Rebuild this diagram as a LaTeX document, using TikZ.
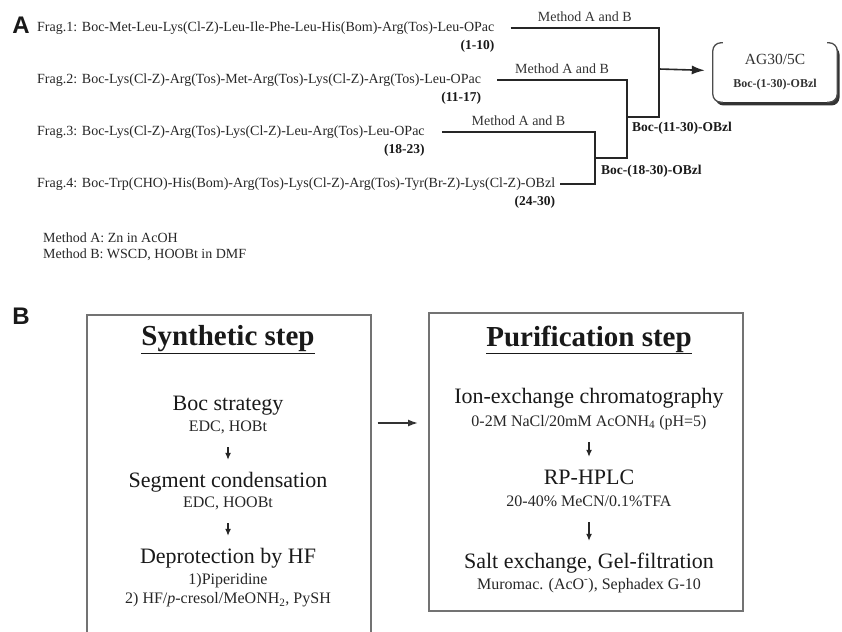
\documentclass[tikz,border=0pt]{standalone}
\usepackage{fontspec}
\setmainfont{Liberation Serif}
\newfontfamily\panelfont{Liberation Sans}
\usetikzlibrary{arrows.meta, positioning, shadows}
\tikzset{
  panel/.style={inner sep=0pt,text=black!90,font=\panelfont\fontsize{24bp}{24bp}\selectfont\bfseries},
  frag/.style={anchor=west,inner sep=0pt,text=black!85,font=\fontsize{14bp}{16bp}\selectfont},
  seglabel/.style={inner sep=0pt,text=black!90,font=\fontsize{13.5bp}{16bp}\selectfont\bfseries},
  method/.style={midway,above=6bp,inner sep=0pt,text=black!80,font=\fontsize{14bp}{16bp}\selectfont},
  relation/.style={line width=1.3bp,black!85},
  product/.style={relation,line width=1.6bp,-{Latex[length=13bp,width=9bp]},shorten >=8bp},
  agbox/.style={rectangle,rounded corners=8bp,fill=white,minimum width=124bp,minimum height=59bp,
    align=center,inner sep=0pt,text=black!80,font=\fontsize{15.5bp}{23bp}\selectfont,
    drop shadow={shadow xshift=2.5bp,shadow yshift=-3.5bp,fill=black!80,opacity=1}},
  bracket/.style={line width=1.3bp,black!70,rounded corners=8bp},
  stepbox/.style={draw=black!55,line width=1.5bp,anchor=north west,inner sep=0pt},
  boxtitle/.style={inner sep=0pt,text=black!90,font=\fontsize{29bp}{32bp}\selectfont\bfseries},
  stepname/.style={inner sep=0pt,text height=15bp,text depth=5bp,text=black!90,font=\fontsize{22bp}{24bp}\selectfont},
  reagentlines/.style={inner sep=0pt,align=center,text=black!85,font=\fontsize{16bp}{19bp}\selectfont},
  reagent/.style={reagentlines,text height=12bp,text depth=4bp},
  steparrow/.style={line width=1.2bp,black!85,-{Latex[length=7bp,width=6bp]},shorten <=12bp,shorten >=12bp},
  flow/.style={line width=1.5bp,black!80,-{Latex[length=10bp,width=7bp]},shorten <=6bp,shorten >=10bp},
}
\begin{document}
\begin{tikzpicture}[x=1bp,y=-1bp]
  \useasboundingbox (0,0) rectangle (842,632);
  \clip (0,0) rectangle (842,632);

  % panel A: fragment condensation
  \node[panel] (pa) at (21,25) {A};
  \node[frag] (f1) at (37,28) {Frag.1: Boc-Met-Leu-Lys(Cl-Z)-Leu-Ile-Phe-Leu-His(Bom)-Arg(Tos)-Leu-OPac};
  \node[frag] (f2) at (37,80) {Frag.2: Boc-Lys(Cl-Z)-Arg(Tos)-Met-Arg(Tos)-Lys(Cl-Z)-Arg(Tos)-Leu-OPac};
  \node[frag] (f3) at (37,132) {Frag.3: Boc-Lys(Cl-Z)-Arg(Tos)-Lys(Cl-Z)-Leu-Arg(Tos)-Leu-OPac};
  \node[frag] (f4) at (37,184) {Frag.4: Boc-Trp(CHO)-His(Bom)-Arg(Tos)-Lys(Cl-Z)-Arg(Tos)-Tyr(Br-Z)-Lys(Cl-Z)-OBzl};
  \node[seglabel,below left=5bp and 0bp of f1.south east] (r1) {(1-10)};
  \node[seglabel,below left=5bp and 0bp of f2.south east] (r2) {(11-17)};
  \node[seglabel,below left=5bp and 0bp of f3.south east] (r3) {(18-23)};
  \node[seglabel,below left=5bp and 0bp of f4.south east] (r4) {(24-30)};

  \coordinate (c3) at (595,158);
  \coordinate (c2) at (627,117);
  \coordinate (c1) at (659,69);
  \node[agbox] (ag) at (775,72.5) {AG30/5C\\{\fontsize{12bp}{14bp}\selectfont\bfseries Boc-(1-30)-OBzl}};
  \draw[bracket] ([xshift=10bp]ag.north west) -- (ag.north west) -- (ag.south west) -- ([xshift=10bp]ag.south west);
  \draw[bracket] ([xshift=-10bp]ag.north east) -- (ag.north east) -- (ag.south east) -- ([xshift=-10bp]ag.south east);

  \draw[relation] ([xshift=17bp]f3.east) -- node[method] {Method A and B} (f3.east -| c3) -- (f4.east -| c3) -- ([xshift=5bp]f4.east);
  \draw[relation] ([xshift=16bp]f2.east) -- node[method] {Method A and B} (f2.east -| c2) -- (c3 -| c2) -- (c3);
  \draw[relation] ([xshift=16bp]f1.east) -- node[method] {Method A and B} (f1.east -| c1) -- (c2 -| c1) -- (c2);
  \draw[product] (c1) -- (ag);
  \node[seglabel,anchor=west] (s18) at (601,171) {Boc-(18-30)-OBzl};
  \node[seglabel,anchor=west] (s11) at (632,128) {Boc-(11-30)-OBzl};

  \node[frag,align=left] (notes) at (43,247) {Method A: Zn in AcOH\\Method B: WSCD, HOOBt in DMF};

  % panel B: synthesis and purification
  \node[panel] (pb) at (21,316) {B};
  \node[stepbox,minimum width=284bp,minimum height=330bp] (sbox) at (86,314) {};
  \node[stepbox,minimum width=314bp,minimum height=298bp] (pbox) at (428,312) {};
  \coordinate (mid) at (400,423);
  \draw[flow] (sbox.east |- mid) -- (pbox.west |- mid);

  \node[boxtitle] (syn) at (228,340) {\underline{Synthetic step}};
  \node[stepname] (boc) at (228,405) {Boc strategy};
  \node[reagent] (hobt) at (228,427) {EDC, HOBt};
  \node[stepname] (seg) at (228,482) {Segment condensation};
  \node[reagent] (hoobt) at (228,503) {EDC, HOOBt};
  \node[stepname] (hf) at (228,558) {Deprotection by HF};
  \node[reagentlines] (pip) at (228,590.5) {1)Piperidine\\2) HF/\textit{p}-cresol/MeONH\textsubscript{2}, PySH};
  \draw[steparrow] (hobt) -- (seg);
  \draw[steparrow] (hoobt) -- (hf);

  \node[boxtitle] (pur) at (589,340) {\underline{Purification step}};
  \node[stepname] (ion) at (589,398) {Ion-exchange chromatography};
  \node[reagent] (nacl) at (589,422) {0-2M NaCl/20mM AcONH\textsubscript{4} (pH=5)};
  \node[stepname] (rp) at (589,479) {RP-HPLC};
  \node[reagent] (tfa) at (589,502) {20-40\% MeCN/0.1\%TFA};
  \node[stepname] (salt) at (589,563) {Salt exchange, Gel-filtration};
  \node[reagent] (muro) at (589,585) {Muromac. (AcO\textsuperscript{-}), Sephadex G-10};
  \draw[steparrow] (nacl) -- (rp);
  \draw[steparrow] (tfa) -- (salt);
\end{tikzpicture}
\end{document}
